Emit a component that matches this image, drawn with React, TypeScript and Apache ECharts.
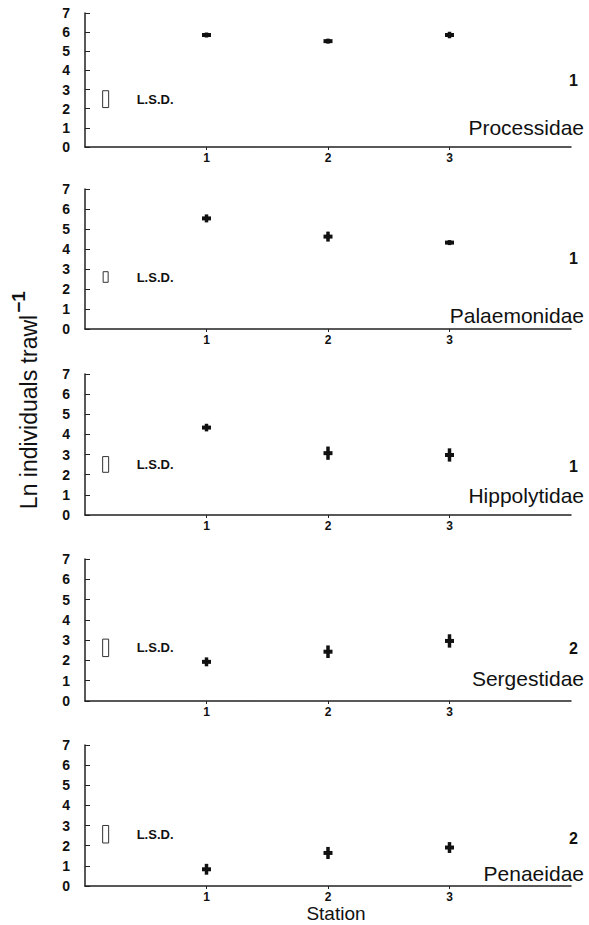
import React, { useEffect, useRef } from "react";
import * as echarts from "echarts";

// ---- Data ----
const stations = [1, 2, 3];
const stationTickLabels = ["1", "2", "3"];
const yTicks = [0, 1, 2, 3, 4, 5, 6, 7];

const families = ["Processidae", "Palaemonidae", "Hippolytidae", "Sergestidae", "Penaeidae"];
const groupNumbers = ["1", "1", "1", "2", "2"];

const processidaeMean = [5.85, 5.53, 5.85];
const processidaeErr = [0.08, 0.08, 0.17];
const palaemonidaeMean = [5.53, 4.62, 4.32];
const palaemonidaeErr = [0.2, 0.25, 0.1];
const hippolytidaeMean = [4.34, 3.07, 2.98];
const hippolytidaeErr = [0.19, 0.33, 0.33];
const sergestidaeMean = [1.93, 2.43, 2.96];
const sergestidaeErr = [0.22, 0.31, 0.33];
const penaeidaeMean = [0.83, 1.64, 1.91];
const penaeidaeErr = [0.27, 0.3, 0.27];

const lsdX = 0.17;
const lsdCenter = [2.5, 2.6, 2.51, 2.62, 2.57];
const lsdValue = [0.88, 0.53, 0.78, 0.86, 0.87];

const means = [processidaeMean, palaemonidaeMean, hippolytidaeMean, sergestidaeMean, penaeidaeMean];
const errs = [processidaeErr, palaemonidaeErr, hippolytidaeErr, sergestidaeErr, penaeidaeErr];

// ---- Layout ----
const panelLayout = [
  { top: 13, height: 134, titleY: 127, numY: 80 },
  { top: 189, height: 140, titleY: 315, numY: 258 },
  { top: 374, height: 141, titleY: 495, numY: 466 },
  { top: 559, height: 142, titleY: 678, numY: 648 },
  { top: 745, height: 141, titleY: 873, numY: 838 },
];
const GRID_LEFT = 85;
const GRID_RIGHT = 18;
const FONT = '"Liberation Sans", Arial, Helvetica, sans-serif';
const INK = "#111";

export default function App() {
  const ref = useRef<HTMLDivElement>(null);

  useEffect(() => {
    if (!ref.current) return;
    const chart = echarts.init(ref.current, undefined, { renderer: "svg" });

    const grid = panelLayout.map((p) => ({
      left: GRID_LEFT,
      right: GRID_RIGHT,
      top: p.top,
      height: p.height,
    }));

    const xAxis = panelLayout.map((_, i) => ({
      gridIndex: i,
      type: "value",
      min: 0,
      max: 4,
      interval: 1,
      axisLine: { show: true, onZero: false, lineStyle: { color: "#222", width: 1.5 } },
      axisTick: { show: true, length: 3, customValues: stations, lineStyle: { color: "#222" } },
      axisLabel: {
        show: true,
        customValues: stations,
        formatter: (v: number) => stationTickLabels[stations.indexOf(v)] ?? "",
        margin: 5,
        fontSize: 12,
        fontWeight: "bold",
        fontFamily: FONT,
        color: INK,
      },
      splitLine: { show: false },
    }));

    const yAxis = panelLayout.map((_, i) => ({
      gridIndex: i,
      type: "value",
      min: yTicks[0],
      max: yTicks[yTicks.length - 1],
      interval: 1,
      axisLine: { show: true, lineStyle: { color: "#222", width: 1.5 } },
      axisTick: { show: true, inside: true, length: 5, lineStyle: { color: "#222" } },
      axisLabel: {
        margin: 15,
        fontSize: 14,
        fontWeight: "bold",
        fontFamily: FONT,
        color: INK,
      },
      splitLine: { show: false },
    }));

    const pointSeries = means.map((m, i) => ({
      type: "custom",
      xAxisIndex: i,
      yAxisIndex: i,
      data: stations.map((s, j) => [s, m[j], errs[i][j]]),
      renderItem: (_params: any, api: any) => {
        const x = api.value(0);
        const mv = api.value(1);
        const e = api.value(2);
        const c = api.coord([x, mv]);
        const t = api.coord([x, mv + e]);
        const b = api.coord([x, mv - e]);
        let top = t[1];
        let h = b[1] - t[1];
        if (h < 5) {
          top = c[1] - 2.5;
          h = 5;
        }
        return {
          type: "group",
          children: [
            { type: "rect", shape: { x: c[0] - 1.75, y: top, width: 3.5, height: h }, style: { fill: INK } },
            { type: "rect", shape: { x: c[0] - 4.5, y: c[1] - 2, width: 9, height: 4 }, style: { fill: INK } },
          ],
        };
      },
    }));

    const lsdSeries = lsdCenter.map((c, i) => ({
      type: "custom",
      xAxisIndex: i,
      yAxisIndex: i,
      data: [[lsdX, c, lsdValue[i]]],
      renderItem: (_params: any, api: any) => {
        const x = api.value(0);
        const cv = api.value(1);
        const v = api.value(2);
        const cc = api.coord([x, cv]);
        const t = api.coord([x, cv + v / 2]);
        const b = api.coord([x, cv - v / 2]);
        const w = i === 1 ? 5 : 6;
        return {
          type: "group",
          children: [
            {
              type: "rect",
              shape: { x: cc[0] - w / 2, y: t[1], width: w, height: b[1] - t[1] },
              style: { fill: "#fff", stroke: "#333", lineWidth: 1 },
            },
            {
              type: "text",
              x: cc[0] + 31,
              y: cc[1],
              style: {
                text: "L.S.D.",
                fill: INK,
                fontSize: 13,
                fontWeight: "bold",
                fontFamily: FONT,
                align: "left",
                verticalAlign: "middle",
              },
            },
          ],
        };
      },
    }));

    const graphic: any[] = [];
    panelLayout.forEach((p, i) => {
      graphic.push({
        type: "text",
        x: 584,
        y: p.titleY,
        style: {
          text: families[i],
          fill: INK,
          fontSize: 21,
          fontFamily: FONT,
          align: "right",
          verticalAlign: "middle",
        },
      });
      graphic.push({
        type: "text",
        x: 578,
        y: p.numY,
        style: {
          text: groupNumbers[i],
          fill: INK,
          fontSize: 16,
          fontWeight: "bold",
          fontFamily: FONT,
          align: "right",
          verticalAlign: "middle",
        },
      });
    });
    graphic.push({
      type: "text",
      x: 336,
      y: 913,
      style: {
        text: "Station",
        fill: INK,
        fontSize: 19,
        fontFamily: FONT,
        align: "center",
        verticalAlign: "middle",
      },
    });
    graphic.push({
      type: "text",
      x: 29,
      y: 412,
      rotation: Math.PI / 2,
      style: {
        text: "Ln individuals trawl",
        fill: INK,
        fontSize: 23,
        fontFamily: FONT,
        align: "center",
        verticalAlign: "middle",
      },
    });
    graphic.push({
      type: "text",
      x: 18,
      y: 302,
      rotation: Math.PI / 2,
      style: {
        text: "\u22121",
        fill: INK,
        fontSize: 19,
        fontWeight: "bold",
        fontFamily: FONT,
        align: "center",
        verticalAlign: "middle",
      },
    });

    chart.setOption({
      animation: false,
      backgroundColor: "#fff",
      grid,
      xAxis,
      yAxis,
      series: [...pointSeries, ...lsdSeries],
      graphic,
    });

    return () => chart.dispose();
  }, []);

  return (
    <div
      ref={ref}
      style={{ position: "absolute", left: 0, top: 0, width: 589, height: 925 }}
    />
  );
}
